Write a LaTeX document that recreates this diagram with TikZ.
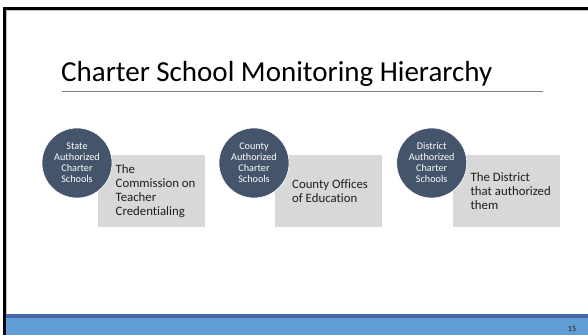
\documentclass[tikz,border=0pt]{standalone}
\usepackage{fontspec}
\setmainfont{Carlito}[Ligatures={NoCommon}]
\definecolor{slate}{HTML}{44546A}
\definecolor{panel}{HTML}{D8D8D9}
\definecolor{barDark}{HTML}{4A66AC}
\definecolor{barLight}{HTML}{609DD2}
\definecolor{ink}{HTML}{1E1E1E}
\definecolor{rule}{HTML}{808080}
\begin{document}
\begin{tikzpicture}[x=1pt,y=-1pt,
  authority/.style={circle, fill=slate, draw=white, line width=0.6pt,
    minimum size=70pt, inner sep=0pt, text=white, align=center,
    font=\fontsize{10.2}{11}\selectfont},
  panelbox/.style={rectangle, fill=panel, draw=none,
    minimum width=107pt, minimum height=72pt, inner sep=0pt},
  paneltext/.style={anchor=west, align=left, inner sep=0pt, text=ink,
    font=\fontsize{12.8}{14}\selectfont}]
  \useasboundingbox (0,0) rectangle (588,335);
  \fill[white] (0,0) rectangle (588,335);

  % slide frame
  \fill[black] (2.7,6.7) rectangle (588,10);
  \fill[black] (2.7,6.7) rectangle (6,335);
  \fill[black!25] (6,10) rectangle (588,10.8);
  \fill[black!25] (6,10) rectangle (6.8,314);

  % footer bar
  \fill[barDark] (6,314) rectangle (588,318);
  \fill[barLight] (6,318) rectangle (588,335);
  \node[inner sep=0pt, text=ink, font=\fontsize{8}{9}\selectfont] (pagenum) at (572,328.5) {15};

  % title and rule
  \node[anchor=base west, inner sep=0pt, text=black, font=\fontsize{29}{34}\selectfont]
    (title) at (61,81.7) {Charter School Monitoring Hierarchy};
  \coordinate (ruleL) at (62,91);
  \coordinate (ruleR) at (543,91);
  \draw[rule, line width=0.8pt] (ruleL) -- (ruleR);

  % panels
  \node[panelbox, anchor=north west] (b1) at (98,155) {};
  \node[panelbox, anchor=north west] (b2) at (275,155) {};
  \node[panelbox, anchor=north west] (b3) at (452.5,155) {};

  \node[paneltext, xshift=17.5pt] (t1) at (b1.west) {The\\Commission on\\Teacher\\Credentialing};
  \node[paneltext, xshift=17pt] (t2) at (b2.west) {County Offices\\of Education};
  \node[paneltext, xshift=18pt] (t3) at (b3.west) {The District\\that authorized\\them};

  % authorizers
  \node[authority] (c1) at (77,163) {State\\Authorized\\Charter\\Schools};
  \node[authority] (c2) at (254,163) {County\\Authorized\\Charter\\Schools};
  \node[authority] (c3) at (431.7,163) {District\\Authorized\\Charter\\Schools};
\end{tikzpicture}
\end{document}
